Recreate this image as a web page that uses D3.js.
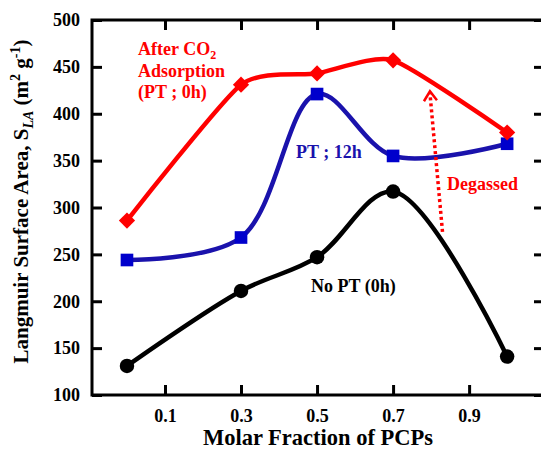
<!DOCTYPE html>
<html>
<head>
<meta charset="utf-8">
<script src="https://cdn.jsdelivr.net/npm/d3@7"></script>
<style>
  body { margin: 0; background: #fff; }
  svg { display: block; overflow: hidden; }
  text { font-family: "Liberation Serif", "Times New Roman", serif; font-weight: bold; }
</style>
</head>
<body>
<div id="chart"></div>
<script>
// molar fraction of PCPs
const fractions = [0, 0.3, 0.5, 0.7, 1.0];
// Langmuir surface area series
const afterCO2 = [286, 431, 443, 457, 380];
const pt12h = [244, 268, 421, 355, 368];
const noPT = [131, 211, 247, 317, 141];
const xTicks = [0.1, 0.3, 0.5, 0.7, 0.9];
const yTicks = [100, 150, 200, 250, 300, 350, 400, 450, 500];

const W = 541, H = 451;
const plotLeft = 92, plotRight = 544, plotTop = 20, plotBottom = 395;

let svg = d3.select("#chart").append("svg")
    .attr("width", W)
    .attr("height", H);

let x = d3.scaleLinear().domain([-0.092, 1.097]).range([plotLeft, plotRight]);
let y = d3.scaleLinear().domain([100, 500]).range([plotBottom, plotTop]);

// ticks on all four sides, pointing in
svg.append("g").attr("transform", `translate(0,${plotBottom})`)
    .call(d3.axisBottom(x).tickValues(xTicks).tickSize(-10).tickFormat(d3.format(".1f")).tickPadding(14));
svg.append("g").attr("transform", `translate(0,${plotTop})`)
    .call(d3.axisTop(x).tickValues(xTicks).tickSize(-10).tickFormat(""));
svg.append("g").attr("transform", `translate(${plotLeft},0)`)
    .call(d3.axisLeft(y).tickValues(yTicks).tickSize(-10).tickPadding(12));
svg.append("g").attr("transform", `translate(${plotRight},0)`)
    .call(d3.axisRight(y).tickValues(yTicks).tickSize(-10).tickFormat(""));

svg.selectAll(".domain").remove();
svg.selectAll(".tick line").attr("stroke", "#000").attr("stroke-width", 3);
svg.selectAll(".tick text").attr("fill", "#000").style("font-size", "18px");

// frame
svg.append("rect")
    .attr("x", plotLeft).attr("y", plotTop)
    .attr("width", plotRight - plotLeft).attr("height", plotBottom - plotTop)
    .attr("fill", "none").attr("stroke", "#000").attr("stroke-width", 3);

const series = [
    { vals: noPT, line: "#000", fill: "#000", shape: d3.symbolCircle, size: 165, rot: 0, curve: d3.curveCatmullRom.alpha(0.5) },
    { vals: pt12h, line: "#1a12ac", fill: "#0000cc", shape: d3.symbolSquare, size: 160, rot: 0, curve: d3.curveCatmullRom.alpha(0.5) },
    { vals: afterCO2, line: "#ff0000", fill: "#ff0000", shape: d3.symbolSquare, size: 132, rot: 45, curve: d3.curveCardinal.tension(0.4) }
];

series.forEach(s => {
    let pts = fractions.map((f, i) => [f, s.vals[i]]);
    let line = d3.line()
        .x(d => x(d[0]))
        .y(d => y(d[1]))
        .curve(s.curve);
    svg.append("path")
        .datum(pts)
        .attr("d", line)
        .attr("fill", "none")
        .attr("stroke", s.line)
        .attr("stroke-width", 4.5);
    svg.append("g").selectAll("path")
        .data(pts)
        .enter()
        .append("path")
        .attr("d", d3.symbol().type(s.shape).size(s.size))
        .attr("transform", d => `translate(${x(d[0])},${y(d[1])}) rotate(${s.rot})`)
        .attr("fill", s.fill);
});

// dotted "Degassed" arrow
let a0 = [0.83, 274], a1 = [0.797, 424];
svg.append("line")
    .attr("x1", x(a0[0])).attr("y1", y(a0[1]))
    .attr("x2", x(a1[0])).attr("y2", y(a1[1]) + 2)
    .attr("stroke", "#ff0000").attr("stroke-width", 3.5)
    .attr("stroke-dasharray", "3,3");
svg.append("path")
    .attr("d", `M${x(a1[0]) - 6},${y(a1[1]) + 10} L${x(a1[0])},${y(a1[1])} L${x(a1[0]) + 7},${y(a1[1]) + 9}`)
    .attr("fill", "none").attr("stroke", "#ff0000").attr("stroke-width", 2.5);

// annotations
let red = svg.append("text").attr("fill", "#ff0000").style("font-size", "18px");
red.append("tspan").attr("x", 138).attr("y", 55).text("After CO");
red.append("tspan").attr("dy", 4).style("font-size", "12px").text("2");
red.append("tspan").attr("x", 138).attr("y", 77).text("Adsorption");
red.append("tspan").attr("x", 138).attr("y", 98).text("(PT ; 0h)");

svg.append("text").attr("x", 296).attr("y", 158).attr("fill", "#1a12ac")
    .style("font-size", "18px").text("PT ; 12h");
svg.append("text").attr("x", 447).attr("y", 190).attr("fill", "#ff0000")
    .style("font-size", "18px").text("Degassed");
svg.append("text").attr("x", 311).attr("y", 292).attr("fill", "#000")
    .style("font-size", "18px").text("No PT (0h)");

// axis titles
svg.append("text")
    .attr("x", 318).attr("y", 445)
    .attr("text-anchor", "middle")
    .style("font-size", "22.5px")
    .text("Molar Fraction of PCPs");

let yt = svg.append("text")
    .attr("transform", `translate(28,${(plotTop + plotBottom) / 2 - 6}) rotate(-90)`)
    .attr("text-anchor", "middle")
    .style("font-size", "21px");
yt.append("tspan").text("Langmuir Surface Area, S");
yt.append("tspan").attr("dy", 5).style("font-size", "14px").style("font-style", "italic").text("LA");
yt.append("tspan").attr("dy", -5).text(" (m");
yt.append("tspan").attr("dy", -8).style("font-size", "14px").text("2");
yt.append("tspan").attr("dy", 8).text(" g");
yt.append("tspan").attr("dy", -8).style("font-size", "14px").text("-1");
yt.append("tspan").attr("dy", 8).text(")");
</script>
</body>
</html>
